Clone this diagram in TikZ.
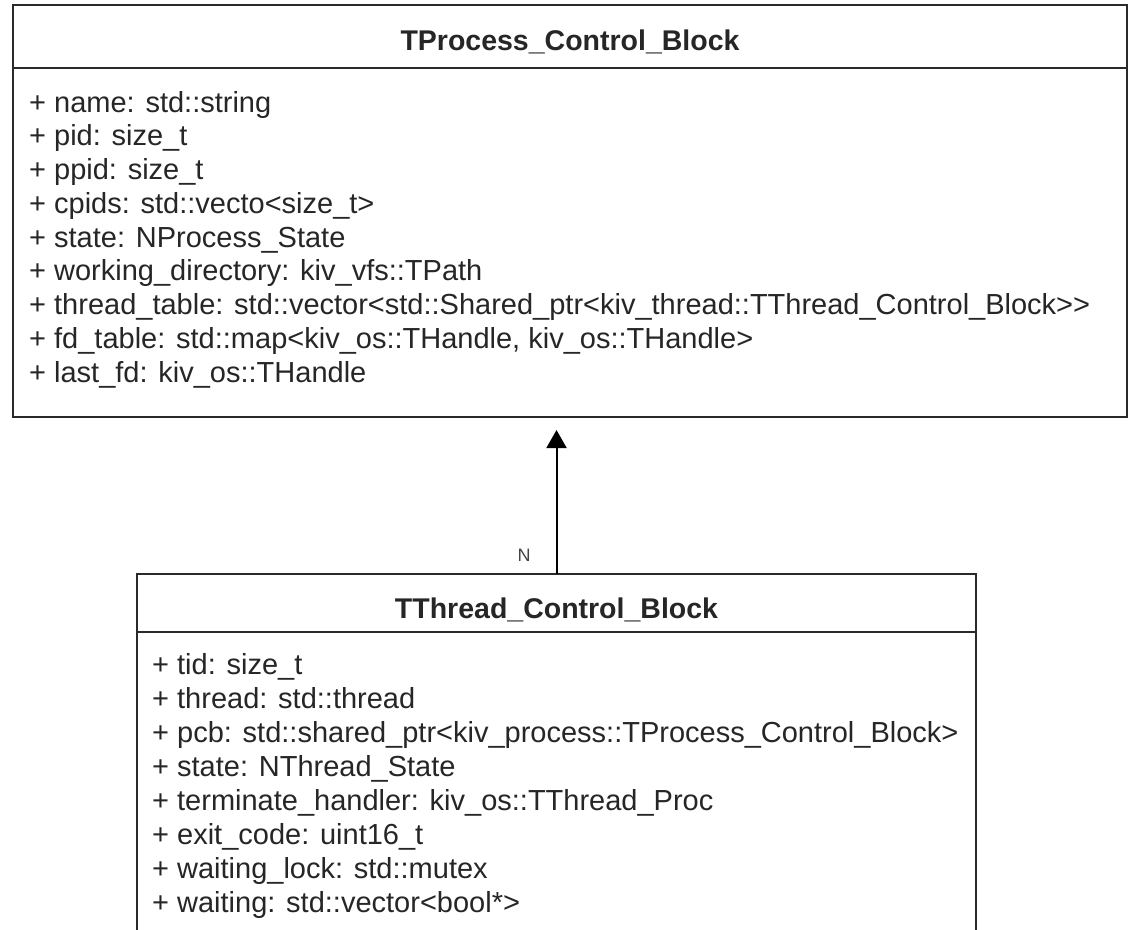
\documentclass[tikz,border=0pt]{standalone}
\usepackage{fontspec}
\setmainfont{Liberation Sans}
\usetikzlibrary{arrows.meta}
\definecolor{txt}{HTML}{262626}
\definecolor{edgec}{HTML}{2A2A2A}
\definecolor{lblc}{HTML}{444444}
\begin{document}
\begin{tikzpicture}[x=1pt,y=-1pt,
  classbox/.style={draw=edgec, line width=2.5pt, fill=white, inner sep=0pt, outer sep=0pt},
  sepline/.style={draw=edgec, line width=2.5pt},
  classtitle/.style={text=txt, font=\fontsize{28.5}{34}\selectfont\bfseries, inner sep=0pt, anchor=base},
  attr/.style={text=txt, font=\fontsize{29}{34}\selectfont, inner sep=0pt, anchor=base west},
  lbl/.style={text=lblc, font=\fontsize{18}{22}\selectfont, inner sep=0pt},
  assoc/.style={draw=black, line width=2pt, -{Triangle[length=18pt,width=20pt]}}]
\useasboundingbox (0,0) rectangle (1129,929);
\clip (0,0) rectangle (1129,929);
\fill[white] (0,0) rectangle (1129,929);
% process control block
\node[classbox, minimum width=1114pt, minimum height=412pt] (pcb) at (570,211) {};
\draw[sepline] (pcb.west |- 0,68) -- (pcb.east |- 0,68);
\node[classtitle] (pcbt) at (570,50) {TProcess\_Control\_Block};
\foreach \t [count=\i] in {
  {+ name: std::string},
  {+ pid: size\_t},
  {+ ppid: size\_t},
  {+ cpids: std::vecto<size\_t>},
  {+ state: NProcess\_State},
  {+ working\_directory: kiv\_vfs::TPath},
  {+ thread\_table: std::vector<std::Shared\_ptr<kiv\_thread::TThread\_Control\_Block>{}>},
  {+ fd\_table: std::map<kiv\_os::THandle, kiv\_os::THandle>},
  {+ last\_fd: kiv\_os::THandle}}
  \node[attr] (pa\i) at (29,{112+33.75*(\i-1)}) {\t};
% thread control block
\node[classbox, minimum width=839pt, minimum height=371pt] (tcb) at (556.5,759.5) {};
\draw[sepline] (tcb.west |- 0,632) -- (tcb.east |- 0,632);
\node[classtitle] (tcbt) at (556.5,618) {TThread\_Control\_Block};
\foreach \t [count=\i] in {
  {+ tid: size\_t},
  {+ thread: std::thread},
  {+ pcb: std::shared\_ptr<kiv\_process::TProcess\_Control\_Block>},
  {+ state: NThread\_State},
  {+ terminate\_handler: kiv\_os::TThread\_Proc},
  {+ exit\_code: uint16\_t},
  {+ waiting\_lock: std::mutex},
  {+ waiting: std::vector<bool*>}}
  \node[attr] (ta\i) at (152,{674+34*(\i-1)}) {\t};
% association
\draw[assoc, shorten >=13pt] (tcb.north) -- (tcb.north |- pcb.south);
\node[lbl] (nlbl) at (524,555) {N};
\end{tikzpicture}
\end{document}
